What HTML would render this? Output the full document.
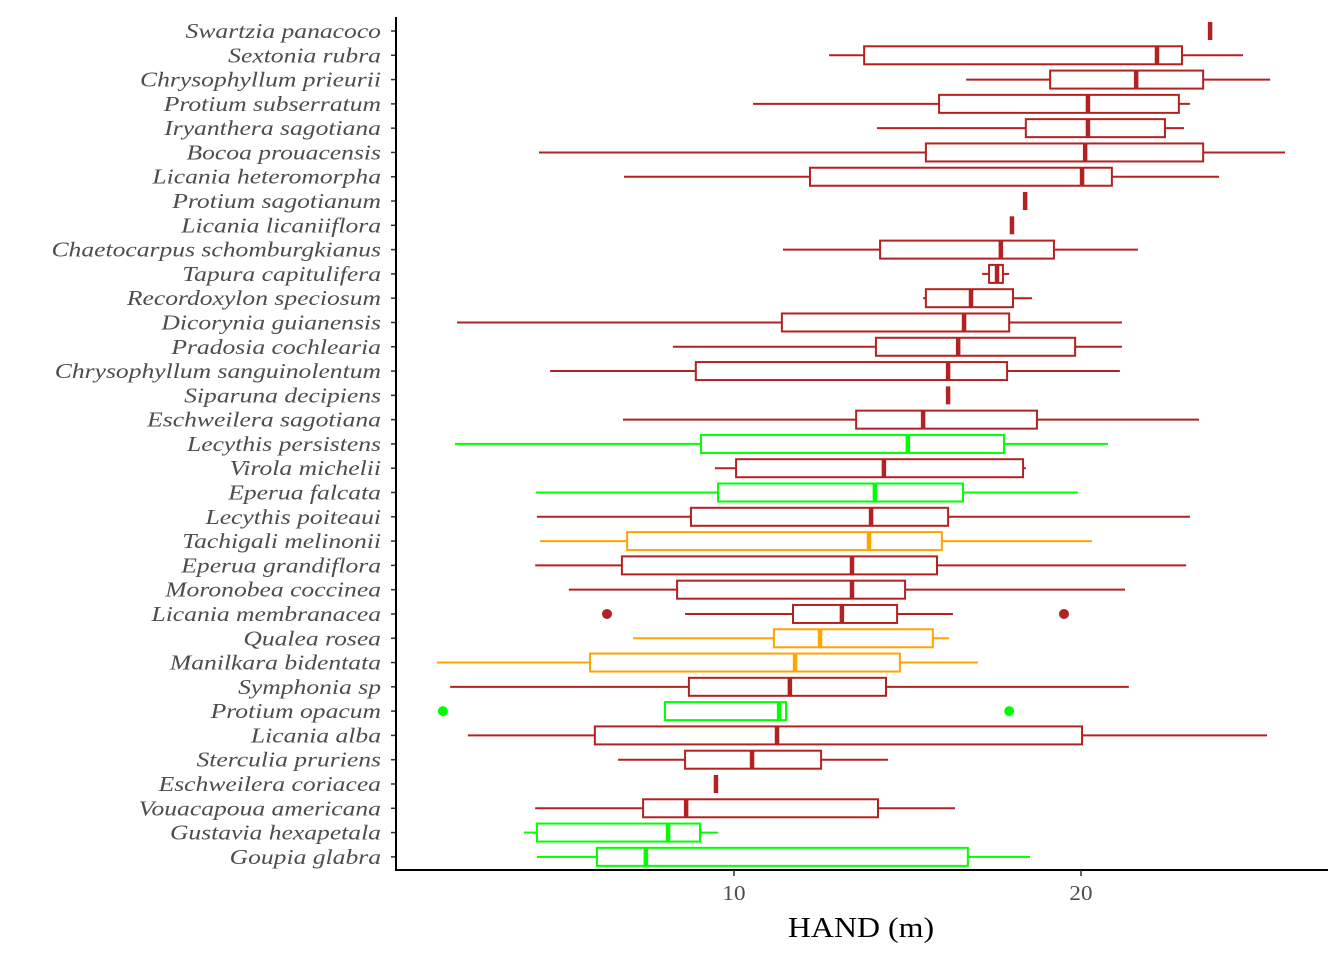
<!DOCTYPE html>
<html><head><meta charset="utf-8"><style>
html,body{margin:0;padding:0;background:#fff;}
svg{display:block;font-family:"Liberation Serif",serif;}
</style></head><body>
<svg id="chart" width="1344" height="960" xmlns="http://www.w3.org/2000/svg"></svg>
<script>
const species=["Swartzia panacoco","Sextonia rubra","Chrysophyllum prieurii","Protium subserratum","Iryanthera sagotiana","Bocoa prouacensis","Licania heteromorpha","Protium sagotianum","Licania licaniiflora","Chaetocarpus schomburgkianus","Tapura capitulifera","Recordoxylon speciosum","Dicorynia guianensis","Pradosia cochlearia","Chrysophyllum sanguinolentum","Siparuna decipiens","Eschweilera sagotiana","Lecythis persistens","Virola michelii","Eperua falcata","Lecythis poiteaui","Tachigali melinonii","Eperua grandiflora","Moronobea coccinea","Licania membranacea","Qualea rosea","Manilkara bidentata","Symphonia sp","Protium opacum","Licania alba","Sterculia pruriens","Eschweilera coriacea","Vouacapoua americana","Gustavia hexapetala","Goupia glabra"];
const whiskerLow=[23.72,12.74,16.69,10.55,14.12,4.38,6.83,18.39,18.01,11.41,17.15,15.45,2.02,8.24,4.7,16.17,6.8,1.96,9.45,4.29,4.32,4.41,4.27,5.24,8.59,7.09,1.44,1.82,8.01,2.33,6.66,9.48,4.27,3.95,4.32];
const q1=[23.72,13.75,19.11,15.91,18.41,15.53,12.19,18.39,18.01,14.21,17.35,15.53,11.38,14.09,8.9,16.17,13.52,9.05,10.06,9.54,8.76,6.92,6.77,8.36,11.7,11.15,5.85,8.7,8.01,5.99,8.59,9.48,7.38,4.32,6.05];
const median=[23.72,22.19,21.59,20.2,20.2,20.12,20.03,18.39,18.01,17.69,17.58,16.83,16.63,16.46,16.17,16.17,15.45,15.01,14.32,14.06,13.95,13.89,13.4,13.4,13.11,12.48,11.76,11.61,11.3,11.24,10.52,9.48,8.62,8.1,7.46];
const q3=[23.72,22.91,23.52,22.82,22.42,23.52,20.89,18.39,18.01,19.22,17.75,18.04,17.93,19.83,17.87,16.17,18.73,17.78,18.33,16.6,16.17,15.99,15.85,14.93,14.7,15.73,14.78,14.38,11.5,20.03,12.51,9.48,14.15,9.02,16.74];
const whiskerHigh=[23.72,24.67,25.45,23.14,22.97,25.88,23.98,18.39,18.01,21.64,17.93,18.59,21.18,21.18,21.12,16.17,23.4,20.78,18.41,19.91,23.14,20.32,23.03,21.27,16.31,16.2,17.03,21.38,11.5,25.36,14.44,9.48,16.37,9.54,18.53];
const groups=["r","r","r","r","r","r","r","r","r","r","r","r","r","r","r","r","r","g","r","g","r","o","r","r","r","o","o","r","g","r","r","r","r","g","g"];
const outliers=[[],[],[],[],[],[],[],[],[],[],[],[],[],[],[],[],[],[],[],[],[],[],[],[],[6.34,19.51],[],[],[],[1.61,17.93],[],[],[],[],[],[]];
const xTicks=[10,20];
const colors={r:"#b22222",g:"#00ff00",o:"#ffa500"};
const svg=document.getElementById('chart');
const NS="http://www.w3.org/2000/svg";
const xs=v=>387+v*34.7;
const ys=i=>31+i*24.29;
function mk(t,a){const e=document.createElementNS(NS,t);for(const k in a)e.setAttribute(k,a[k]);svg.appendChild(e);return e;}
function widen(t,f){const w=t.getComputedTextLength();t.setAttribute('textLength',w*f);t.setAttribute('lengthAdjust','spacingAndGlyphs');}
species.forEach((s,i)=>{
  const y=ys(i),c=colors[groups[i]];
  const g=document.createElementNS(NS,'g');
  
  
  svg.appendChild(g);
  const add=(t,a)=>{const e=document.createElementNS(NS,t);for(const k in a)e.setAttribute(k,a[k]);g.appendChild(e);return e;};
  add('line',{x1:xs(whiskerLow[i]),x2:xs(q1[i]),y1:y,y2:y,stroke:c,'stroke-width':2});
  add('line',{x1:xs(q3[i]),x2:xs(whiskerHigh[i]),y1:y,y2:y,stroke:c,'stroke-width':2});
  add('rect',{x:xs(q1[i]),y:y-9,width:Math.max(0,xs(q3[i])-xs(q1[i])),height:18,fill:'none',stroke:c,'stroke-width':2});
  add('line',{x1:xs(median[i]),x2:xs(median[i]),y1:y-9,y2:y+9,stroke:c,'stroke-width':4.5});
  outliers[i].forEach(o=>add('circle',{cx:xs(o),cy:y,r:5,fill:c}));
  const t=mk('text',{x:381,y:y+7,'text-anchor':'end','font-size':21.5,'font-style':'italic',fill:'#4d4d4d'});
  t.textContent=s;
  
  
  widen(t,1.19);
  mk('line',{x1:391,x2:396,y1:y,y2:y,stroke:'#333','stroke-width':1.5});
});
const ya=mk('line',{x1:396,x2:396,y1:17,y2:871,stroke:'#000','stroke-width':2});


const xa=mk('line',{x1:395,x2:1328,y1:870,y2:870,stroke:'#000','stroke-width':2});


xTicks.forEach(v=>{
  mk('line',{x1:xs(v),x2:xs(v),y1:870,y2:876,stroke:'#333','stroke-width':1.5});
  const t=mk('text',{x:xs(v),y:900,'text-anchor':'middle','font-size':21,fill:'#4d4d4d'});
  t.textContent=v;
  
  
  widen(t,1.1);
});
const xt=mk('text',{x:861,y:937,'text-anchor':'middle','font-size':29,fill:'#000'});
xt.textContent='HAND (m)';


widen(xt,1.1);
</script>
</body></html>
